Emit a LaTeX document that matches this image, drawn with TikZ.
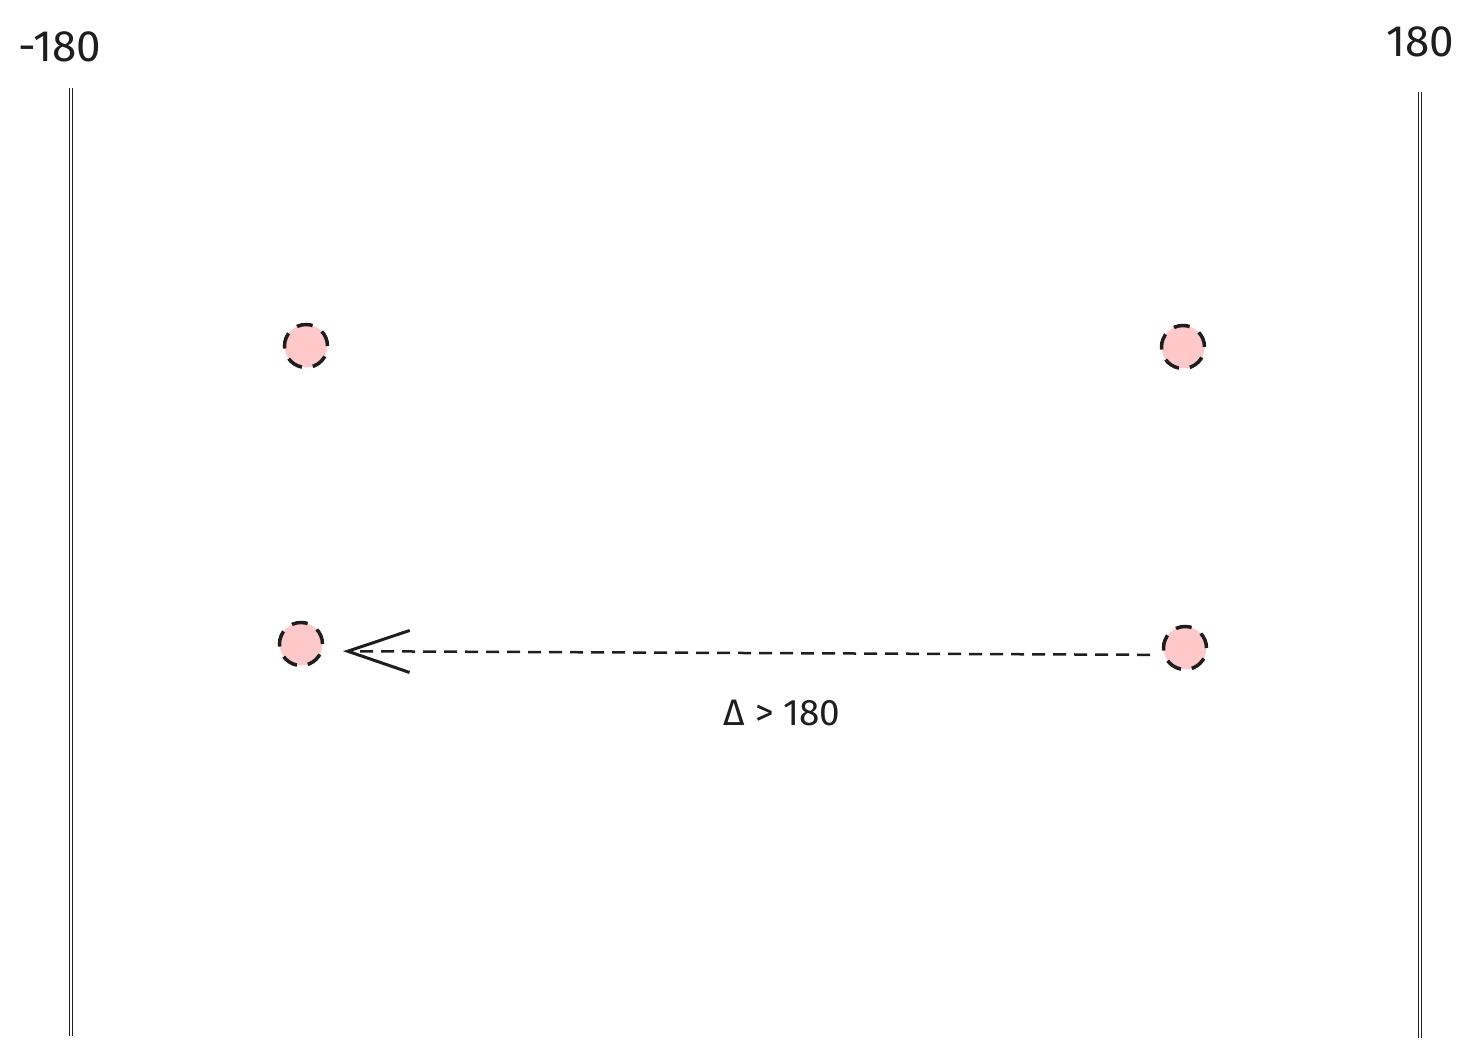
\documentclass[tikz,border=0pt]{standalone}
\usepackage{fontspec}
\setmainfont{Fira Sans}
\usepackage{tikz}
\usetikzlibrary{arrows.meta}
\definecolor{dotpink}{HTML}{FFC9C9}
\definecolor{ink}{HTML}{1E1E1E}

\begin{document}
\begin{tikzpicture}[x=0.02cm, y=-0.02cm,
  dot/.style={circle, fill=dotpink, draw=ink, line width=0.07cm, dash pattern=on 0.32cm off 0.22cm, minimum size=0.86cm, inner sep=0},
  limit/.style={draw=ink, double, double distance=0.04cm, line width=0.8pt},
  lbl/.style={font=\fontsize{25}{28}\selectfont, text=ink, inner sep=0}]
\useasboundingbox (0,0) rectangle (1478,1060);
%bounds
\draw[limit] (71,88) -- (71,1036);
\draw[limit] (1420,92) -- (1420,1038);
\node[lbl] (lo) at (60,47) {-180};
\node[lbl] (hi) at (1420,42) {180};
%points
\node[dot] (p1) at (306,346) {};
\node[dot] (p2) at (1183,347) {};
\node[dot] (p3) at (301,644) {};
\node[dot] (p4) at (1185,648) {};
\draw[ink, line width=0.05cm, dash pattern=on 0.26cm off 0.16cm, -{Straight Barb[length=1.24cm, width=0.84cm, line width=0.06cm]}, shorten <=0.7cm, shorten >=0.84cm] ([yshift=-0.14cm]p4.center) -- ([yshift=-0.14cm]p3.center);
\node[lbl, font=\fontsize{21}{24}\selectfont] (delta) at (782,713) {Δ > 180};
\end{tikzpicture}
\end{document}
